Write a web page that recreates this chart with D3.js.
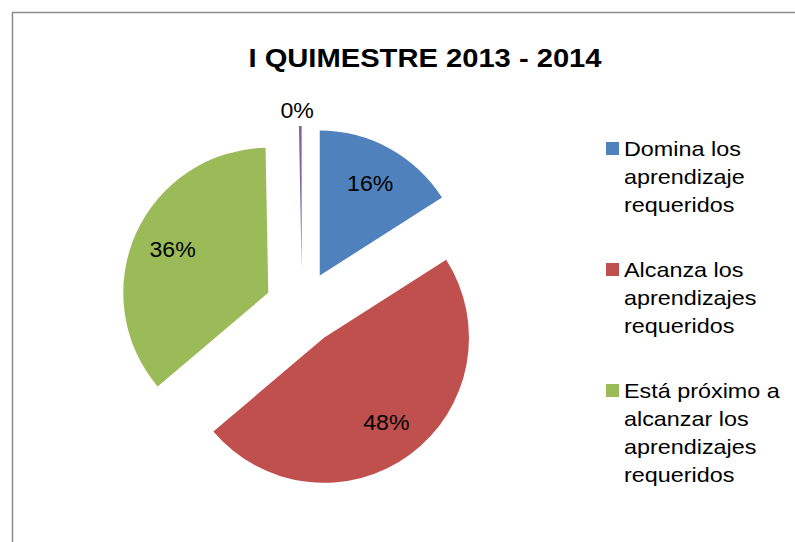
<!DOCTYPE html>
<html>
<head>
<meta charset="utf-8">
<script src="https://cdn.jsdelivr.net/npm/d3@7"></script>
<style>
  body { margin: 0; background: #fff; }
  text { font-family: "Liberation Sans", Arial, sans-serif; }
</style>
</head>
<body>
<script>
// data
var title = "I QUIMESTRE 2013 - 2014";
var categories = [
  ["Domina los", "aprendizaje", "requeridos"],
  ["Alcanza los", "aprendizajes", "requeridos"],
  ["Está próximo a", "alcanzar los", "aprendizajes", "requeridos"],
  ["Otro"]
];
var values = [16, 48, 36, 0.3];
var colors = ["#4F81BD", "#C0504D", "#9BBB59", "#8064A2"];

var W = 795, H = 542;
var svg = d3.select('body').append('svg')
            .attr("width", W)
            .attr("height", H);

// chart frame (runs off the right/bottom edge)
svg.append('rect')
   .attr('x', 12.5).attr('y', 12.5)
   .attr('width', W + 20).attr('height', H + 20)
   .attr('fill', 'none')
   .attr('stroke', '#8c8c8c')
   .attr('stroke-width', 1.5);

// the source picture is a bit stretched sideways, so text gets a small x scale
svg.append('text')
   .attr('transform', 'translate(425,67) scale(1.1,1)')
   .attr('text-anchor', 'middle')
   .style('font-size', '26.5px')
   .style('font-weight', 'bold')
   .text(title);

var cx = 302, cy = 308, r = 145;
var explode = 37;
var total = d3.sum(values);
var pct = d3.format(".0%");

var pie = d3.pie().sort(null).value(function (d) { return d; });
var arcs = pie(values);
var arc = d3.arc().innerRadius(0).outerRadius(r);

var offset = function (d, k) {
  var a = (d.startAngle + d.endAngle) / 2;
  return [Math.sin(a) * k, -Math.cos(a) * k];
};

var slices = svg.selectAll('g.slice')
  .data(arcs)
  .enter().append('g')
  .attr('class', 'slice')
  .attr('transform', function (d) {
    var o = offset(d, explode);
    return "translate(" + (cx + o[0]) + "," + (cy + o[1]) + ")";
  });

slices.append('path')
  .attr('d', arc)
  .attr('fill', function (d, i) { return colors[i]; });

slices.append('text')
  .attr('transform', function (d) {
    var tiny = d.data / total < 0.01;
    var o = offset(d, tiny ? r + 16 : 105);
    if (tiny) o[0] -= 3;
    return "translate(" + o[0] + "," + o[1] + ") scale(1.05,1)";
  })
  .attr('text-anchor', 'middle')
  .attr('dy', '0.35em')
  .style('font-size', '22px')
  .text(function (d) { return pct(d.data / total); });

// legend (only first three entries fit in the frame)
var lineH = 28, gap = 37;
var ly = 149;
var legend = svg.append('g');
categories.slice(0, 3).forEach(function (lines, i) {
  legend.append('rect')
    .attr('x', 606).attr('y', ly - 7)
    .attr('width', 13).attr('height', 13)
    .attr('fill', colors[i]);
  lines.forEach(function (t, j) {
    legend.append('text')
      .attr('transform', 'translate(624,' + (ly + j * lineH) + ') scale(1.14,1)')
      .attr('dy', '0.35em')
      .style('font-size', '20.5px')
      .text(t);
  });
  ly += lines.length * lineH + gap;
});
</script>
</body>
</html>
